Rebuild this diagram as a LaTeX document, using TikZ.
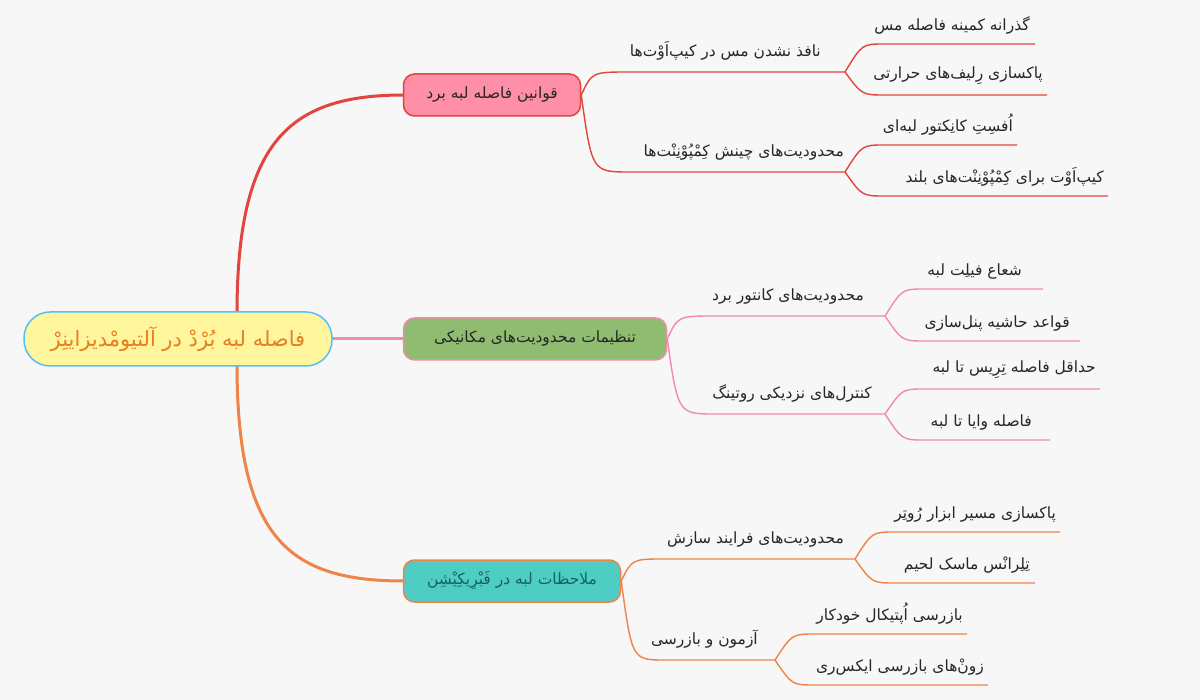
\documentclass[tikz,border=0pt]{standalone}
\usepackage{fontspec}
\newfontfamily\farsi[Script=Arabic]{DejaVu Sans}
\TeXXeTstate=1
\newcommand{\fa}[1]{{\farsi\beginR #1\endR}}
\definecolor{rc}{HTML}{E0453F}\definecolor{pc}{HTML}{F08CA8}\definecolor{oc}{HTML}{EE8448}
\definecolor{rootb}{HTML}{4FC3F7}\definecolor{rootf}{HTML}{FFF59D}\definecolor{roott}{HTML}{E67E22}
\definecolor{f1}{HTML}{FF8FA8}\definecolor{f2}{HTML}{8FBC70}\definecolor{f3}{HTML}{4ECDC4}\definecolor{t3}{HTML}{14645A}
\begin{document}
\begin{tikzpicture}[x=1pt,y=-1pt,
  leaf/.style={anchor=south east,inner sep=4pt,font=\fontsize{15.5}{18}\selectfont,text=black!85},
  sub/.style={anchor=south east,inner sep=4pt,font=\fontsize{15.5}{18}\selectfont,text=black!85},
  cn/.style={line width=1.4pt},
  main/.style={rounded corners=11pt,line width=1.5pt,minimum height=42pt,font=\fontsize{15.5}{18}\selectfont,text=black!85}]
\fill[black!3] (0,0) rectangle (1200,700);
\useasboundingbox (0,0) rectangle (1200,700);
% root connectors
\draw[rc,line width=3pt] (237,314) .. controls (237,140) and (290,95) .. (404,95);
\draw[pc,line width=3pt] (330,339) -- (404,339);
\draw[oc,line width=3pt] (237,364) .. controls (237,540) and (290,581) .. (404,581);
% root
\node[rounded corners=26pt,draw=rootb,fill=rootf,line width=1.5pt,minimum width=308pt,minimum height=54pt,text=roott,font=\fontsize{21}{24}\selectfont] (root) at (178,339) {\fa{فاصله لبه بُرْدْ در آلتیومْدیزاینِرْ}};
% main nodes
\node[main,draw=rc,fill=f1,minimum width=177pt] (b1) at (492,95) {\fa{قوانین فاصله لبه برد}};
\node[main,draw=pc,fill=f2,minimum width=263pt] (b2) at (535,339) {\fa{تنظیمات محدودیت‌های مکانیکی}};
\node[main,draw=oc,fill=f3,minimum width=217pt,text=t3] (b3) at (512,581) {\fa{ملاحظات لبه در فَبْرِیکِیْشِن}};
% branch 1
\coordinate (s11) at (845,72);\coordinate (s12) at (845,172);
\draw[rc,cn] (b1.east) .. controls (592,72) .. (630,72) -- (s11);
\draw[rc,cn] (b1.east) .. controls (592,172) .. (630,172) -- (s12);
\node[sub] (t11) at (825,64) {\fa{نافذ نشدن مس در کیپ‌اَوْت‌ها}};
\node[sub] (t12) at (848,164) {\fa{محدودیت‌های چینش کِمْپُوْنِنْت‌ها}};
\draw[rc,cn] (s11) .. controls (862,44) .. (885,44) -- (1035,44);
\draw[rc,cn] (s11) .. controls (862,95) .. (885,95) -- (1047,95);
\draw[rc,cn] (s12) .. controls (862,145) .. (885,145) -- (1017,145);
\draw[rc,cn] (s12) .. controls (862,196) .. (885,196) -- (1108,196);
\node[leaf] (l1) at (1034,38) {\fa{گذرانه کمینه فاصله مس}};
\node[leaf] (l2) at (1047,89) {\fa{پاکسازی رِلیف‌های حرارتی}};
\node[leaf] (l3) at (1017,139) {\fa{اُفسِتِ کانِکتور لبه‌ای}};
\node[leaf] (l4) at (1108,190) {\fa{کیپ‌اَوْت برای کِمْپُوْنِنْت‌های بلند}};
% branch 2
\coordinate (s21) at (885,316);\coordinate (s22) at (885,414);
\draw[pc,cn] (b2.east) .. controls (678,316) .. (715,316) -- (s21);
\draw[pc,cn] (b2.east) .. controls (678,414) .. (715,414) -- (s22);
\node[sub] (t21) at (868,308) {\fa{محدودیت‌های کانتور برد}};
\node[sub] (t22) at (876,406) {\fa{کنترل‌های نزدیکی روتینگ}};
\draw[pc,cn] (s21) .. controls (902,289) .. (925,289) -- (1043,289);
\draw[pc,cn] (s21) .. controls (902,341) .. (925,341) -- (1080,341);
\draw[pc,cn] (s22) .. controls (902,389) .. (925,389) -- (1100,389);
\draw[pc,cn] (s22) .. controls (902,440) .. (925,440) -- (1050,440);
\node[leaf] (l5) at (1026,283) {\fa{شعاع فیلِت لبه}};
\node[leaf] (l6) at (1074,335) {\fa{قواعد حاشیه پنل‌سازی}};
\node[leaf] (l7) at (1100,383) {\fa{حداقل فاصله تِرِیس تا لبه}};
\node[leaf] (l8) at (1036,434) {\fa{فاصله وایا تا لبه}};
% branch 3
\coordinate (s31) at (855,559);\coordinate (s32) at (775,660);
\draw[oc,cn] (b3.east) .. controls (632,559) .. (665,559) -- (s31);
\draw[oc,cn] (b3.east) .. controls (632,660) .. (665,660) -- (s32);
\node[sub] (t31) at (848,551) {\fa{محدودیت‌های فرایند سازش}};
\node[sub] (t32) at (762,652) {\fa{آزمون و بازرسی}};
\draw[oc,cn] (s31) .. controls (872,532) .. (895,532) -- (1060,532);
\draw[oc,cn] (s31) .. controls (872,583) .. (895,583) -- (1035,583);
\draw[oc,cn] (s32) .. controls (792,634) .. (815,634) -- (967,634);
\draw[oc,cn] (s32) .. controls (792,685) .. (815,685) -- (988,685);
\node[leaf] (l9) at (1060,526) {\fa{پاکسازی مسیر ابزار رُوتِر}};
\node[leaf] (l10) at (1034,577) {\fa{تِلِرانْس ماسک لحیم}};
\node[leaf] (l11) at (967,628) {\fa{بازرسی اُپتیکال خودکار}};
\node[leaf] (l12) at (988,679) {\fa{زونْ‌های بازرسی ایکس‌ری}};
\end{tikzpicture}
\end{document}
